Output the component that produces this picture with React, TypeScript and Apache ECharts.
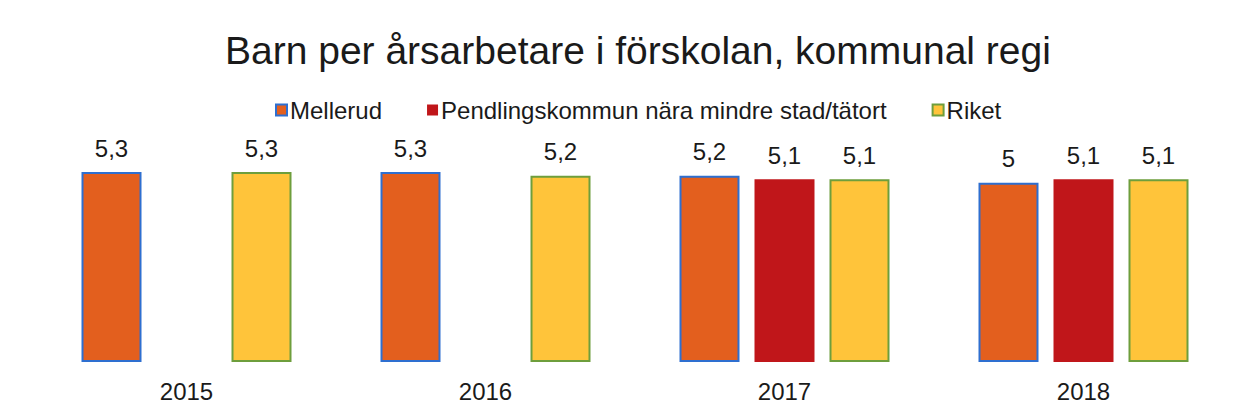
import React, { useEffect, useRef } from "react";
import * as echarts from "echarts";

const categories = ["2015", "2016", "2017", "2018"];
const mellerud = [5.3, 5.3, 5.2, 5.0];
const pendling: (number | null)[] = [null, null, 5.1, 5.1];
const riket = [5.3, 5.2, 5.1, 5.1];

const FONT = "'Liberation Sans', Arial, sans-serif";

export default function App() {
  const ref = useRef<HTMLDivElement>(null);
  useEffect(() => {
    if (!ref.current) return;
    const chart = echarts.init(ref.current, undefined, { renderer: "svg" });
    const label = {
      show: true,
      position: "top",
      distance: 12,
      color: "#1a1a1a",
      fontSize: 24,
      fontFamily: FONT,
      formatter: (p: any) => String(p.value).replace(".", ","),
    };
    chart.setOption({
      animation: false,
      backgroundColor: "#ffffff",
      title: {
        text: "Barn per årsarbetare i förskolan, kommunal regi",
        left: 217,
        top: 23,
        padding: 0,
        textStyle: { fontSize: 39, fontWeight: "normal", color: "#1a1a1a", fontFamily: FONT },
      },
      legend: {
        top: 90,
        left: 267,
        itemWidth: 11,
        itemHeight: 11,
        itemGap: 45,
        padding: 0,
        icon: "rect",
        textStyle: { fontSize: 24, color: "#1a1a1a", fontFamily: FONT, padding: [0, 0, 0, -2] },
        data: [
          { name: "Mellerud", itemStyle: { color: "#E35F1E", borderColor: "#2E6FD0", borderWidth: 2 } },
          { name: "Pendlingskommun nära mindre stad/tätort", itemStyle: { color: "#C0161A", borderColor: "#C0161A", borderWidth: 0 } },
          { name: "Riket", itemStyle: { color: "#FFC43A", borderColor: "#6E9E3C", borderWidth: 2 } },
        ],
      },
      grid: { left: 29, right: 2, top: 139, bottom: 46, containLabel: false },
      xAxis: {
        type: "category",
        data: categories,
        axisLine: { show: false },
        axisTick: { show: false },
        axisLabel: { fontSize: 24, color: "#1a1a1a", fontFamily: FONT, margin: 17 },
      },
      yAxis: { type: "value", min: 0, max: 6, show: false, splitLine: { show: false } },
      series: [
        {
          name: "Mellerud",
          type: "bar",
          data: mellerud,
          barWidth: 60,
          barGap: "25%",
          itemStyle: { color: "#E35F1E", borderColor: "#2E6FD0", borderWidth: 2 },
          label,
        },
        {
          name: "Pendlingskommun nära mindre stad/tätort",
          type: "bar",
          data: pendling,
          barWidth: 60,
          barGap: "25%",
          itemStyle: { color: "#C0161A" },
          label,
        },
        {
          name: "Riket",
          type: "bar",
          data: riket,
          barWidth: 60,
          barGap: "25%",
          itemStyle: { color: "#FFC43A", borderColor: "#6E9E3C", borderWidth: 2 },
          label,
        },
      ],
    });
    return () => chart.dispose();
  }, []);
  return <div ref={ref} style={{ width: 1227, height: 400 }} />;
}
